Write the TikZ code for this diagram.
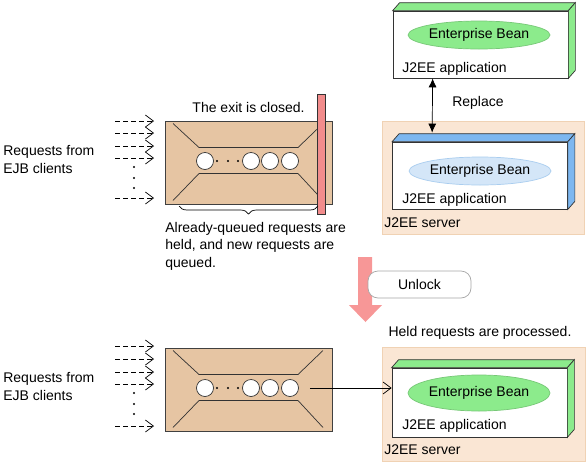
\documentclass[tikz,border=0pt]{standalone}
\usepackage{fontspec}
\setmainfont{Liberation Sans}
\usepackage{xcolor}
\usetikzlibrary{arrows.meta,positioning,shapes.geometric,decorations.pathreplacing}

\definecolor{queuetan}{HTML}{E6C5A3}
\definecolor{serverbg}{HTML}{FAE6D4}
\definecolor{serverline}{HTML}{F0D2B4}
\definecolor{beangreen}{HTML}{8CEB8C}
\definecolor{sideblue}{HTML}{7DB7F0}
\definecolor{beanblue}{HTML}{D4E6F8}
\definecolor{beanblueline}{HTML}{A9CDEF}
\definecolor{lockred}{HTML}{F28C8C}
\definecolor{unlockpink}{HTML}{F79797}

\tikzset{
  queuebox/.style={rectangle,draw=black!75,fill=queuetan,minimum width=167,minimum height=83,inner sep=0pt},
  queueline/.style={draw=black!80,line width=0.7pt},
  slot/.style={circle,draw=black!80,fill=white,minimum size=17,inner sep=0pt},
  appfront/.style={rectangle,draw=black!80,fill=white,minimum width=175,minimum height=67,inner sep=0pt},
  server/.style={rectangle,draw=serverline,fill=serverbg,inner sep=0pt},
  bean/.style={ellipse,minimum width=135,minimum height=28,inner sep=0pt},
  request/.style={dashed,dash pattern=on 5pt off 3pt,-{Straight Barb[length=8pt,width=12pt]}},
  label/.style={inner sep=0pt,align=left},
  pics/queue/.style={code={
    \node[queuebox,anchor=north west] (-box) at (0,0) {};
    \draw[queueline] (8,3) -- (34,27) -- (133,27) -- (158,3);
    \draw[queueline] (8,80) -- (34,53) -- (133,53) -- (158,80);
    \node[slot] (-c1) at (40,40.5) {};
    \foreach \x in {52,63,73} \fill (\x,40.5) circle (1.2pt);
    \node[slot] (-c2) at (86,40.5) {};
    \node[slot] (-c3) at (105,40.5) {};
    \node[slot] (-c4) at (125,40.5) {};
  }},
}

% side and top faces of a J2EE application box
\newcommand{\appdepth}[2]{%
  \filldraw[fill=#2,draw=black!80] (#1.north west) -- ++(7,-8) -- ([shift={(7,-8)}]#1.north east) -- (#1.north east) -- cycle;
  \filldraw[fill=#2,draw=black!80] (#1.north east) -- ++(7,-8) -- ([shift={(7,-8)}]#1.south east) -- (#1.south east) -- cycle;
}

\begin{document}
\begin{tikzpicture}[x=1pt,y=-1pt,line width=0.7pt,every node/.style={font=\fontsize{14}{17.5}\selectfont}]
    \useasboundingbox (0,0) rectangle (587,464);

    % Requests from EJB clients (top)
    \node[label,anchor=west] (clients1) at (3,159.5) {Requests from\\EJB clients};
    \foreach \y [count=\i] in {121,133,146,158,198} {
        \coordinate (rs\i) at (115,\y);
        \coordinate (re\i) at (154,\y);
        \draw[request] (rs\i) -- (re\i);
    }
    \foreach \y in {167,178,188} \fill (134,\y) circle (1.1pt);

    % Queue with closed exit
    \pic (q1) at (165,120.5) {queue};
    \node[rectangle,draw=black!80,fill=lockred,minimum width=8,minimum height=120,inner sep=0pt] (lock) at (321,154) {};
    \node (exit) at (248.5,107) {The exit is closed.};
    \draw[decorate,decoration={brace,amplitude=8pt}] (318,206) -- (179,206);
    \node[label,anchor=west] (held) at (165,246) {Already-queued requests are\\held, and new requests are\\queued.};

    % New application and J2EE server (top)
    \node[appfront] (app1) at (480.5,44.5) {};
    \appdepth{app1}{beangreen}
    \node[bean,fill=beangreen,draw=beangreen!85!black] (bean1) at (479,35) {Enterprise Bean};
    \node[label,anchor=base west] (appname1) at (402,72) {J2EE application};

    \node[server,minimum width=202,minimum height=113,anchor=north west] (server1) at (382,121) {};
    \node[appfront] (app2) at (480,175.5) {};
    \appdepth{app2}{sideblue}
    \node[bean,fill=beanblue,draw=beanblueline] (bean2) at (480,171) {Enterprise Bean};
    \node[label,anchor=base west] (appname2) at (402,203) {J2EE application};
    \node[label,anchor=base west] (servername1) at (384,227) {J2EE server};

    \draw[{Latex[length=9pt,width=8pt]}-{Latex[length=9pt,width=8pt]}] ([xshift=40pt]app1.south west) -- ([xshift=40pt,yshift=9pt]app2.north west);
    \node (replace) at (478,103) {Replace};

    % Unlock
    \fill[unlockpink] (358,257) -- (372,257) -- (372,305) -- (382,305) -- (365.5,322) -- (349,305) -- (358,305) -- cycle;
    \node[rectangle,rounded corners=10pt,draw=black!35,fill=white,minimum width=103,minimum height=27,inner sep=0pt] (unlock) at (419.5,284.5) {Unlock};
    \node (processed) at (480,333) {Held requests are processed.};

    % Requests from EJB clients (bottom)
    \node[label,anchor=west] (clients2) at (3,386.5) {Requests from\\EJB clients};
    \foreach \y [count=\i] in {346,359,372,384,426} {
        \coordinate (bs\i) at (115,\y);
        \coordinate (be\i) at (154,\y);
        \draw[request] (bs\i) -- (be\i);
    }
    \foreach \y in {393,404,414} \fill (134,\y) circle (1.1pt);

    % Queue passing requests on
    \pic (q2) at (165,347.5) {queue};

    % J2EE server (bottom)
    \node[server,minimum width=203,minimum height=114,anchor=north west] (server2) at (382,347) {};
    \node[appfront,minimum height=69] (app3) at (479.5,402.5) {};
    \appdepth{app3}{beangreen}
    \node[bean,fill=beangreen,draw=beangreen!85!black,minimum height=36] (bean3) at (479,393) {Enterprise Bean};
    \node[label,anchor=base west] (appname3) at (402,429) {J2EE application};
    \node[label,anchor=base west] (servername2) at (384,454) {J2EE server};

    \draw[-{Straight Barb[length=8pt,width=12pt]}] ([xshift=11pt]q2-c4.east) -- (app3.west |- q2-c4);
\end{tikzpicture}
\end{document}
